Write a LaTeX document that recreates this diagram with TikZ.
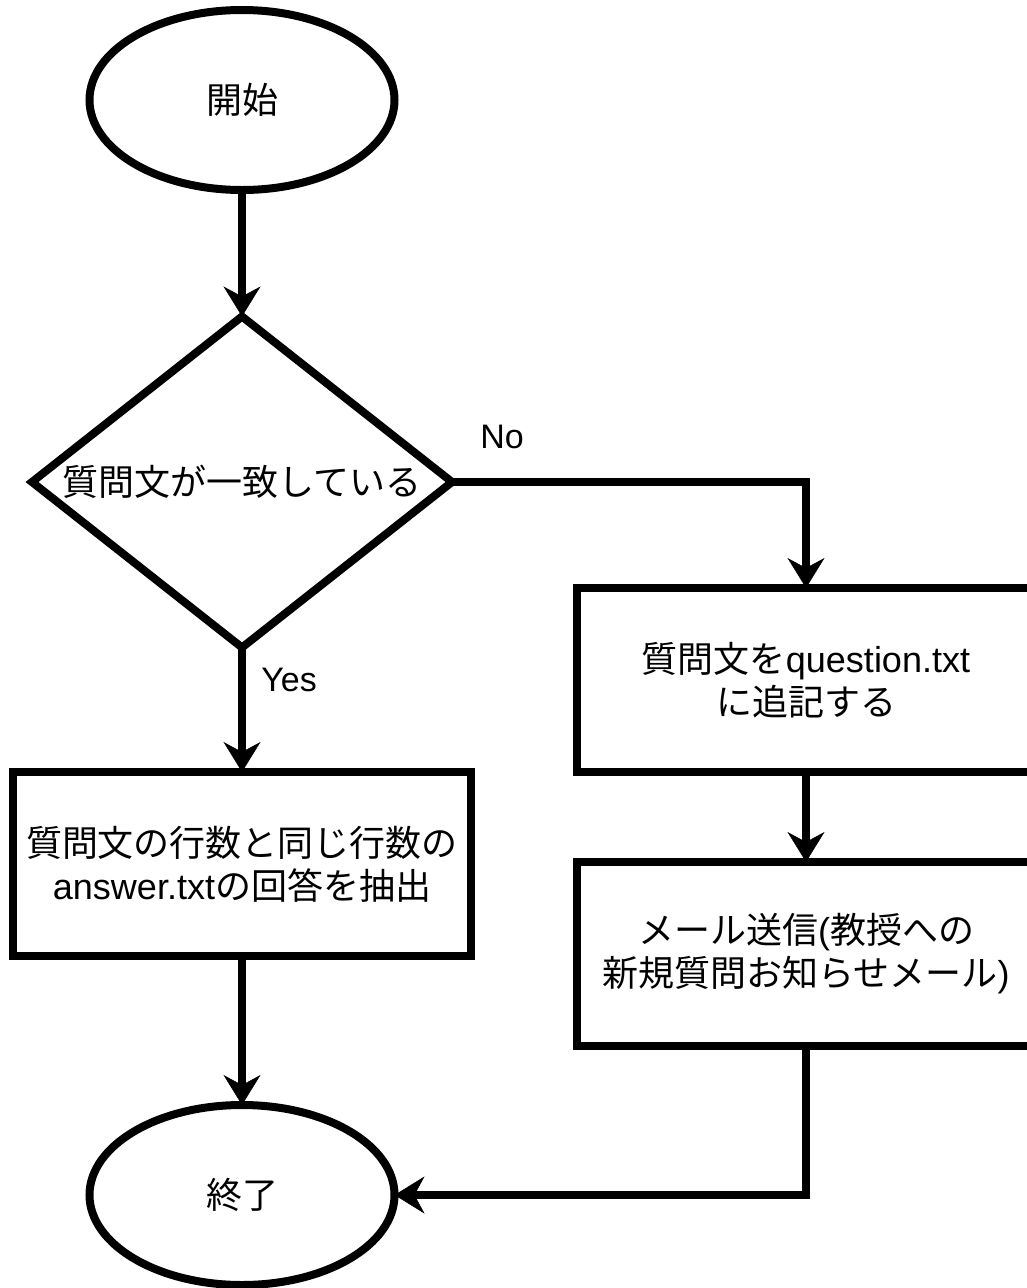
\documentclass[tikz,border=0pt]{standalone}
\usepackage{fontspec}
\setmainfont{Liberation Sans}
\newfontfamily\cjk{Noto Sans CJK JP}
\usetikzlibrary{shapes.geometric,arrows.meta}
\begin{document}
\begin{tikzpicture}[x=1pt,y=-1pt,
  thickline/.style={line width=8pt},
  base/.style={draw=black, thickline, font=\fontsize{36}{43}\selectfont, align=center, inner sep=0pt, outer sep=0pt},
  term/.style={base, ellipse, minimum width=305pt, minimum height=180pt},
  decis/.style={base, diamond, aspect=1.27, minimum width=420pt, minimum height=331pt},
  proc/.style={base, rectangle, minimum width=458pt, minimum height=184pt},
  conn/.style={thickline, -{Stealth[length=30pt,width=37pt,inset=10pt,line width=0.5pt]}, line join=miter},
  lbl/.style={font=\fontsize{34}{38}\selectfont, inner sep=0pt}
]
\useasboundingbox (0,0) rectangle (1027,1288);
\clip (0,0) rectangle (1027,1288);

\node[term]  (st)  at (242,100)  {\cjk 開始};
\node[decis] (dec) at (242,482)  {\cjk 質問文が一致している};
\node[proc]  (a)   at (242,864)  {{\cjk 質問文の行数と同じ行数の}\\answer.txt{\cjk の回答を抽出}};
\node[proc]  (q)   at (806,680)  {{\cjk 質問文を}question.txt\\{\cjk に追記する}};
\node[proc]  (m)   at (806,954)  {{\cjk メール送信}({\cjk 教授への}\\{\cjk 新規質問お知らせメール})};
\node[term]  (fin) at (242,1195) {\cjk 終了};

\node[lbl] (no)  at (502,437) {No};
\node[lbl] (yes) at (289,680) {Yes};

\draw[conn] (st) -- (dec);
\draw[conn] (dec.east) -| (q.north);
\draw[conn] (q) -- (m);
\draw[conn] (dec) -- (a);
\draw[conn] (a) -- (fin);
\draw[conn] (m.south) |- (fin.east);
\end{tikzpicture}
\end{document}
